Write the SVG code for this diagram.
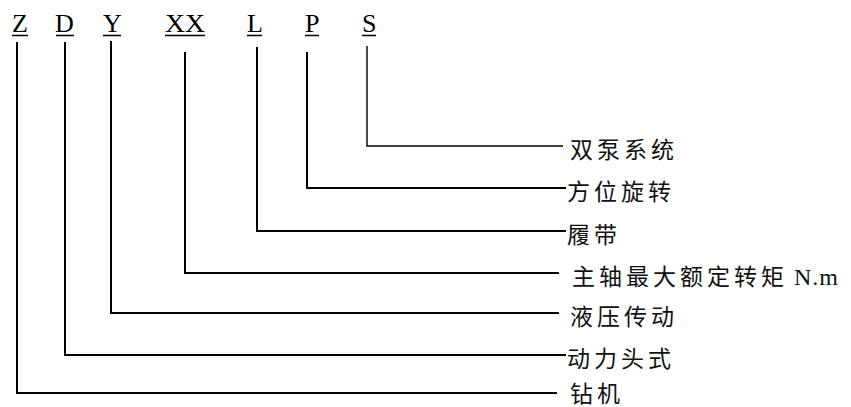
<svg xmlns="http://www.w3.org/2000/svg" width="851" height="407" viewBox="0 0 851 407">
<style>
.code{font-family:"Liberation Serif","Times New Roman",serif;font-size:26px;fill:#000;}
.lbl{font-family:"Liberation Serif","Noto Sans CJK SC",serif;font-size:23px;fill:#111;letter-spacing:4px;}
.ul{stroke:#000;stroke-width:1.5;fill:none;}
.conn{stroke:#000;stroke-width:2;fill:none;}
</style>
<rect width="851" height="407" fill="#fff"/>
<g id="codes">
<g id="code-Z"><text class="code" x="12" y="32">Z</text><line class="ul" x1="12" y1="35.5" x2="28" y2="35.5"/></g>
<g id="code-D"><text class="code" x="55" y="32">D</text><line class="ul" x1="56" y1="35.5" x2="74" y2="35.5"/></g>
<g id="code-Y"><text class="code" x="103" y="32">Y</text><line class="ul" x1="103" y1="35.5" x2="121" y2="35.5"/></g>
<g id="code-XX"><text class="code" x="165" y="32" textLength="40" lengthAdjust="spacingAndGlyphs">XX</text><line class="ul" x1="165" y1="35.5" x2="205" y2="35.5"/></g>
<g id="code-L"><text class="code" x="247" y="32">L</text><line class="ul" x1="247" y1="35.5" x2="262" y2="35.5"/></g>
<g id="code-P"><text class="code" x="305" y="32">P</text><line class="ul" x1="305" y1="35.5" x2="319" y2="35.5"/></g>
<g id="code-S"><text class="code" x="362" y="32">S</text><line class="ul" x1="362" y1="35.5" x2="376" y2="35.5"/></g>
</g>
<g id="connectors">
<path class="conn" style="stroke-width:1.4" d="M367 46V146H563"/>
<path class="conn" d="M307 52V188H566"/>
<path class="conn" d="M257 47V231H566"/>
<path class="conn" d="M185 52V273H559"/>
<path class="conn" d="M111 41V313H559"/>
<path class="conn" d="M65 42V355H566"/>
<path class="conn" d="M17 42V393H557"/>
</g>
<g id="label-S"><text class="lbl" x="570" y="158">双泵系统</text></g>
<g id="label-P"><text class="lbl" x="567" y="200">方位旋转</text></g>
<g id="label-L"><text class="lbl" x="567" y="243">履带</text></g>
<g id="label-XX"><text class="lbl" x="572" y="285">主轴最大额定转矩<tspan x="794" style="letter-spacing:1px;font-size:24px">N.m</tspan></text></g>
<g id="label-Y"><text class="lbl" x="570" y="325">液压传动</text></g>
<g id="label-D"><text class="lbl" x="567" y="367">动力头式</text></g>
<g id="label-Z"><text class="lbl" x="570" y="402">钻机</text></g>
</svg>
